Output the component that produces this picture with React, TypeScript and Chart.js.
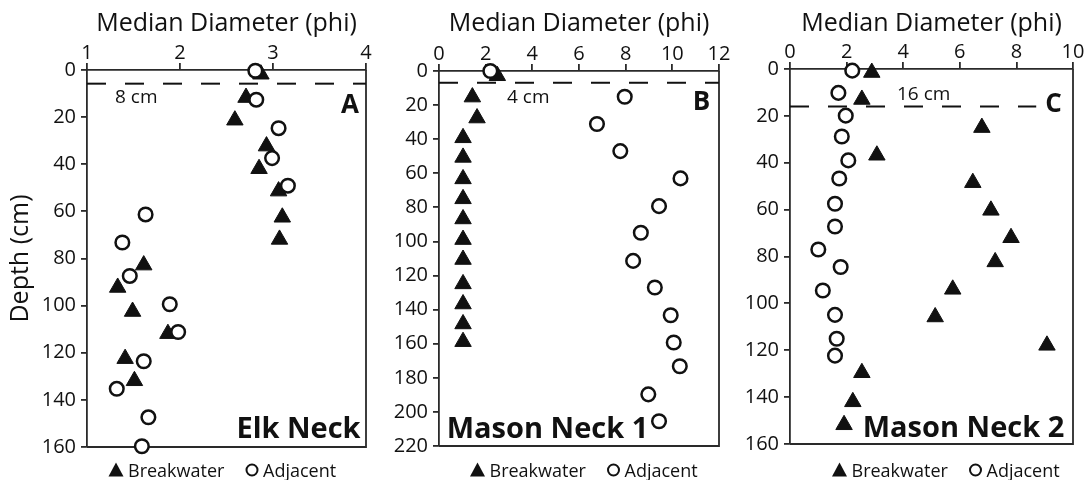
import React, { useEffect, useRef } from 'react';
import { Chart, registerables } from 'chart.js';

Chart.register(...registerables);

const W = 1085;
const H = 480;
const FONT = '"Open Sans", sans-serif';
const INK = '#111';
const AXIS = '#2a2a2a';

// ---------- Data (median diameter in phi, depth in cm) ----------
// Panel A: Elk Neck
const elkBreakwaterPhi = [2.87, 2.71, 2.59, 2.93, 2.85, 3.06, 3.10, 3.07, 1.61, 1.33, 1.49, 1.87, 1.41, 1.51];
const elkBreakwaterDepth = [1.8, 11.7, 21.3, 32.3, 41.9, 51.4, 62.5, 71.9, 82.8, 92.3, 102.5, 111.9, 122.5, 131.9];
const elkAdjacentPhi = [2.81, 2.82, 3.06, 2.99, 3.16, 1.63, 1.38, 1.46, 1.89, 1.98, 1.61, 1.32, 1.66, 1.59];
const elkAdjacentDepth = [0.3, 12.6, 24.7, 37.4, 49.1, 61.3, 73.2, 87.4, 99.4, 111.2, 123.6, 135.3, 147.4, 159.7];
const elkReferenceDepth = 5.8;

// Panel B: Mason Neck 1
const mn1BreakwaterPhi = [2.5, 1.43, 1.63, 1.03, 1.03, 1.03, 1.03, 1.03, 1.03, 1.03, 1.03, 1.03, 1.03, 1.03];
const mn1BreakwaterDepth = [2.8, 15.3, 27.6, 39.2, 50.7, 63.3, 75.0, 86.8, 98.9, 110.6, 124.9, 136.7, 148.4, 158.8];
const mn1AdjacentPhi = [2.20, 7.96, 6.77, 7.77, 10.35, 9.43, 8.65, 8.32, 9.25, 9.93, 10.06, 10.32, 8.97, 9.43];
const mn1AdjacentDepth = [0, 15.1, 31.1, 47.0, 63.0, 79.3, 94.9, 111.4, 127.0, 143.3, 159.3, 173.2, 189.7, 205.5];
const mn1ReferenceDepth = 6.9;

// Panel C: Mason Neck 2
const mn2BreakwaterPhi = [2.89, 2.54, 6.78, 3.07, 6.46, 7.10, 7.81, 7.25, 5.75, 5.13, 9.08, 2.54, 2.22, 1.91];
const mn2BreakwaterDepth = [1.5, 13.0, 25.0, 36.8, 48.5, 60.3, 72.0, 82.3, 94.0, 105.8, 117.9, 129.6, 142.0, 151.8];
const mn2AdjacentPhi = [2.20, 1.71, 1.97, 1.83, 2.06, 1.74, 1.59, 1.59, 1.00, 1.79, 1.16, 1.59, 1.65, 1.59];
const mn2AdjacentDepth = [0.7, 10.2, 19.9, 28.8, 39.0, 46.7, 57.5, 67.2, 77.0, 84.5, 94.5, 104.9, 115.1, 122.3];
const mn2ReferenceDepth = 16;

// Axis titles / series names
const xTitle = 'Median Diameter (phi)';
const yTitle = 'Depth (cm)';
const seriesNames = ['Breakwater', 'Adjacent'];

type Panel = {
  bwPhi: number[]; bwDepth: number[]; adPhi: number[]; adDepth: number[];
  refDepth: number; refLabel: string; refXMax: number;
  xMin: number; xMax: number; xStep: number;
  yMax: number; yStep: number;
  letter: string; name: string; showYTitle: boolean;
  // layout
  padLeft: number; yWidth: number; padRight: number; xHeight: number; padBottom: number;
  refLabelX: number; refLabelY: number;
  letterX: number; letterY: number;
  nameX: number; nameY: number;
  legendX: number;
};

const PANELS: Panel[] = [
  {
    bwPhi: elkBreakwaterPhi, bwDepth: elkBreakwaterDepth, adPhi: elkAdjacentPhi, adDepth: elkAdjacentDepth,
    refDepth: elkReferenceDepth, refLabel: '8 cm', refXMax: 4,
    xMin: 1, xMax: 4, xStep: 1, yMax: 160, yStep: 20,
    letter: 'A', name: 'Elk Neck', showYTitle: true,
    padLeft: 0, yWidth: 87, padRight: W - 366, xHeight: 70, padBottom: H - 447,
    refLabelX: 115, refLabelY: 103, letterX: 350, letterY: 113, nameX: 298.5, nameY: 438, legendX: 116,
  },
  {
    bwPhi: mn1BreakwaterPhi, bwDepth: mn1BreakwaterDepth, adPhi: mn1AdjacentPhi, adDepth: mn1AdjacentDepth,
    refDepth: mn1ReferenceDepth, refLabel: '4 cm', refXMax: 12,
    xMin: 0, xMax: 12, xStep: 2, yMax: 220, yStep: 20,
    letter: 'B', name: 'Mason Neck 1', showYTitle: false,
    padLeft: 378, yWidth: 61, padRight: W - 719, xHeight: 71, padBottom: H - 446,
    refLabelX: 507, refLabelY: 103, letterX: 701.5, letterY: 110, nameX: 547.5, nameY: 438, legendX: 477.5,
  },
  {
    bwPhi: mn2BreakwaterPhi, bwDepth: mn2BreakwaterDepth, adPhi: mn2AdjacentPhi, adDepth: mn2AdjacentDepth,
    refDepth: mn2ReferenceDepth, refLabel: '16 cm', refXMax: 8.7,
    xMin: 0, xMax: 10, xStep: 2, yMax: 160, yStep: 20,
    letter: 'C', name: 'Mason Neck 2', showYTitle: false,
    padLeft: 730, yWidth: 60, padRight: W - 1073, xHeight: 69, padBottom: H - 444,
    refLabelX: 897, refLabelY: 100, letterX: 1053.5, letterY: 112, nameX: 963.5, nameY: 437, legendX: 839.5,
  },
];

const zip = (xs: number[], ys: number[]) => xs.map((x, i) => ({ x, y: ys[i] }));

const decorPlugin = {
  id: 'decor',
  beforeDatasetsDraw(chart: any) {
    const { ctx, chartArea: a } = chart;
    ctx.save();
    ctx.strokeStyle = AXIS;
    ctx.lineWidth = 1.8;
    ctx.beginPath();
    ctx.moveTo(a.right, a.top);
    ctx.lineTo(a.right, a.bottom);
    ctx.lineTo(a.left, a.bottom);
    ctx.stroke();
    ctx.restore();
  },
  afterDatasetsDraw(chart: any, _args: any, opts: any) {
    const p: Panel = opts.panel;
    const { ctx } = chart;
    ctx.save();
    ctx.fillStyle = INK;
    ctx.textBaseline = 'alphabetic';
    // reference-depth label
    ctx.font = `19px ${FONT}`;
    ctx.textAlign = 'left';
    ctx.fillText(p.refLabel, p.refLabelX, p.refLabelY);
    // panel letter
    ctx.font = `bold 26px ${FONT}`;
    ctx.textAlign = 'center';
    ctx.fillText(p.letter, p.letterX, p.letterY);
    // site name
    ctx.font = `bold 29px ${FONT}`;
    ctx.fillText(p.name, p.nameX, p.nameY);
    // legend
    const ly = 470;
    const tx = p.legendX;
    ctx.beginPath();
    ctx.moveTo(tx, ly - 7.5);
    ctx.lineTo(tx + 7.5, ly + 6.5);
    ctx.lineTo(tx - 7.5, ly + 6.5);
    ctx.closePath();
    ctx.fill();
    ctx.font = `18px ${FONT}`;
    ctx.textAlign = 'left';
    ctx.fillText(seriesNames[0], tx + 12, 476.5);
    const cx = tx + 136;
    ctx.beginPath();
    ctx.arc(cx, ly, 5.5, 0, Math.PI * 2);
    ctx.lineWidth = 2;
    ctx.strokeStyle = INK;
    ctx.stroke();
    ctx.fillText(seriesNames[1], cx + 11, 476.5);
    ctx.restore();
  },
};

function buildConfig(p: Panel): any {
  return {
    type: 'scatter',
    data: {
      datasets: [
        {
          type: 'line',
          label: 'reference',
          data: [{ x: p.xMin, y: p.refDepth }, { x: p.refXMax, y: p.refDepth }],
          borderColor: INK,
          borderWidth: 2,
          borderDash: [19, 19],
          pointRadius: 0,
          fill: false,
          order: 3,
          clip: false,
        },
        {
          label: seriesNames[0],
          data: zip(p.bwPhi, p.bwDepth),
          pointStyle: 'triangle',
          pointRadius: 9.5,
          pointBorderWidth: 1,
          backgroundColor: INK,
          borderColor: INK,
          order: 2,
          clip: false,
        },
        {
          label: seriesNames[1],
          data: zip(p.adPhi, p.adDepth),
          pointStyle: 'circle',
          pointRadius: 6.8,
          pointBorderWidth: 2.5,
          backgroundColor: '#fff',
          borderColor: INK,
          order: 1,
          clip: false,
        },
      ],
    },
    options: {
      responsive: false,
      animation: false,
      devicePixelRatio: 1,
      events: [],
      layout: { padding: { left: p.padLeft, right: p.padRight, top: 0, bottom: p.padBottom } },
      plugins: {
        legend: { display: false },
        tooltip: { enabled: false },
        decor: { panel: p },
      },
      scales: {
        x: {
          type: 'linear',
          position: 'top',
          min: p.xMin,
          max: p.xMax,
          afterFit: (s: any) => { s.height = p.xHeight; },
          ticks: { stepSize: p.xStep, color: INK, font: { family: FONT, size: 20, lineHeight: 1 }, padding: 0, maxRotation: 0 },
          grid: { drawOnChartArea: false, drawTicks: true, tickLength: 7, color: AXIS, lineWidth: 1.8 },
          border: { display: true, color: AXIS, width: 1.8 },
          title: { display: true, text: xTitle, color: INK, font: { family: FONT, size: 25 }, padding: { top: 9, bottom: 0 } },
        },
        y: {
          type: 'linear',
          position: 'left',
          reverse: true,
          min: 0,
          max: p.yMax,
          afterFit: (s: any) => { s.width = p.yWidth; },
          ticks: { stepSize: p.yStep, color: INK, font: { family: FONT, size: 20 }, padding: 5 },
          grid: { drawOnChartArea: false, drawTicks: true, tickLength: 6, color: AXIS, lineWidth: 1.8 },
          border: { display: true, color: AXIS, width: 1.8 },
          title: { display: p.showYTitle, text: yTitle, color: INK, font: { family: FONT, size: 25 }, padding: { top: 6, bottom: 0 } },
        },
      },
    },
    plugins: [decorPlugin],
  };
}

export default function App() {
  const r0 = useRef<HTMLCanvasElement>(null);
  const r1 = useRef<HTMLCanvasElement>(null);
  const r2 = useRef<HTMLCanvasElement>(null);
  const refs = [r0, r1, r2];
  useEffect(() => {
    const charts = PANELS.map((p, i) => new Chart(refs[i].current as HTMLCanvasElement, buildConfig(p)));
    return () => charts.forEach((c) => c.destroy());
  }, []);
  return (
    <div style={{ position: 'fixed', left: 0, top: 0, width: W, height: H, background: '#fff' }}>
      {PANELS.map((p, i) => (
        <canvas
          key={p.letter}
          ref={refs[i]}
          width={W}
          height={H}
          style={{ position: 'absolute', left: 0, top: 0, width: W, height: H }}
        />
      ))}
    </div>
  );
}
